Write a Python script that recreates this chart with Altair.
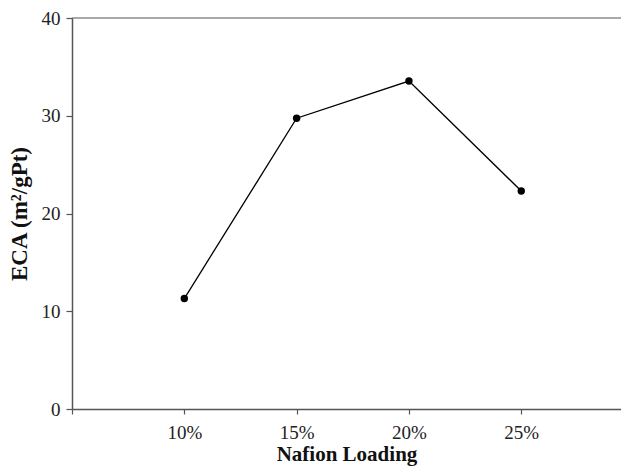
import altair as alt
import pandas as pd

# Data
loading = [10, 15, 20, 25]          # Nafion loading, %
eca = [11.3, 29.75, 33.55, 22.3]    # ECA, m2/gPt

x_ticks = [5, 10, 15, 20, 25]
y_ticks = [0, 10, 20, 30, 40]

df = pd.DataFrame({"loading": loading, "eca": eca})
top_df = pd.DataFrame({"y": [40]})

W, H = 549, 391
AXC = "#555555"
FONT = "Liberation Serif"

x_enc = alt.X(
    "loading:Q",
    scale=alt.Scale(domain=[5, 29.44], nice=False, zero=False),
    axis=alt.Axis(
        values=x_ticks,
        labelExpr="datum.value == 5 ? '' : datum.value + '%'",
        title="Nafion Loading",
        grid=False,
        tickSize=5,
        labelPadding=9,
        titleY=51,
        titleBaseline="alphabetic",
        titleFontSize=21,
    ),
)
y_enc = alt.Y(
    "eca:Q",
    scale=alt.Scale(domain=[0, 40], nice=False),
    axis=alt.Axis(
        values=y_ticks,
        title="ECA (m²/gPt)",
        grid=False,
        tickSize=6,
        labelPadding=6,
        titlePadding=10,
        titleFontSize=23,
    ),
)

line = alt.Chart(df).mark_line(color="black", strokeWidth=1.3).encode(x=x_enc, y=y_enc)
pts = alt.Chart(df).mark_point(filled=True, color="black", size=55, opacity=1).encode(x=x_enc, y=y_enc)
top = alt.Chart(top_df).mark_rule(color=AXC, strokeWidth=1.2).encode(
    y="y:Q", x=alt.value(0), x2=alt.value(W)
)

chart = (
    alt.layer(top, line, pts)
    .properties(
        width=W,
        height=H,
        padding={"left": 64, "top": 10, "right": 0, "bottom": 57},
        autosize=alt.AutoSizeParams(type="none"),
    )
    .configure_view(stroke=None)
    .configure_axis(
        domainColor=AXC,
        domainWidth=1.5,
        tickColor=AXC,
        tickWidth=1.2,
        labelFont=FONT,
        labelFontSize=19,
        labelColor="#222222",
        titleFont=FONT,
        titleFontWeight="bold",
        titleColor="#111111",
    )
)

chart.save("out.html", embed_options={"renderer": "svg", "actions": False})
